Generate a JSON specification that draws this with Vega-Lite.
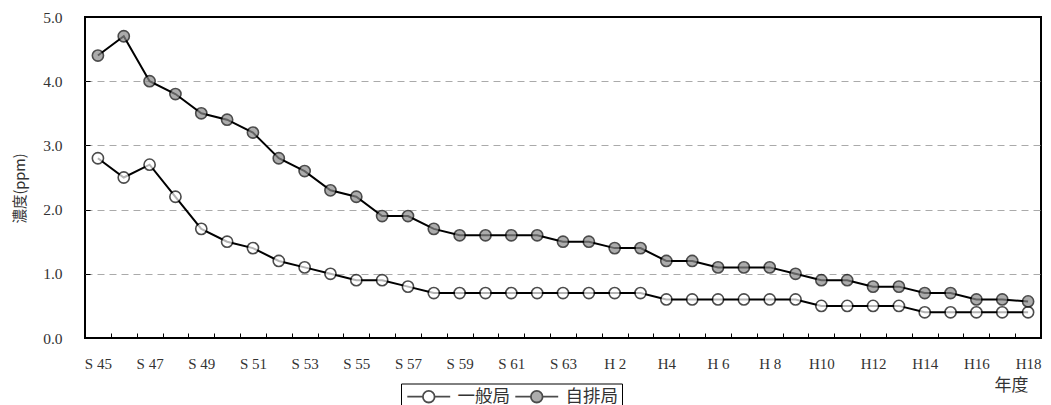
{
  "$schema": "https://vega.github.io/schema/vega-lite/v6.json",
  "width": 956,
  "height": 321,
  "autosize": {"type": "none"},
  "padding": {"left": 85, "top": 17, "right": 10, "bottom": 67},
  "config": {
    "view": {"stroke": "black", "strokeWidth": 2},
    "font": "Liberation Serif"
  },
  "data": {
    "values": [
      {"year": "S 45", "series": "一般局", "value": 2.8}, {"year": "S 45", "series": "自排局", "value": 4.4},
      {"year": "S 46", "series": "一般局", "value": 2.5}, {"year": "S 46", "series": "自排局", "value": 4.7},
      {"year": "S 47", "series": "一般局", "value": 2.7}, {"year": "S 47", "series": "自排局", "value": 4.0},
      {"year": "S 48", "series": "一般局", "value": 2.2}, {"year": "S 48", "series": "自排局", "value": 3.8},
      {"year": "S 49", "series": "一般局", "value": 1.7}, {"year": "S 49", "series": "自排局", "value": 3.5},
      {"year": "S 50", "series": "一般局", "value": 1.5}, {"year": "S 50", "series": "自排局", "value": 3.4},
      {"year": "S 51", "series": "一般局", "value": 1.4}, {"year": "S 51", "series": "自排局", "value": 3.2},
      {"year": "S 52", "series": "一般局", "value": 1.2}, {"year": "S 52", "series": "自排局", "value": 2.8},
      {"year": "S 53", "series": "一般局", "value": 1.1}, {"year": "S 53", "series": "自排局", "value": 2.6},
      {"year": "S 54", "series": "一般局", "value": 1.0}, {"year": "S 54", "series": "自排局", "value": 2.3},
      {"year": "S 55", "series": "一般局", "value": 0.9}, {"year": "S 55", "series": "自排局", "value": 2.2},
      {"year": "S 56", "series": "一般局", "value": 0.9}, {"year": "S 56", "series": "自排局", "value": 1.9},
      {"year": "S 57", "series": "一般局", "value": 0.8}, {"year": "S 57", "series": "自排局", "value": 1.9},
      {"year": "S 58", "series": "一般局", "value": 0.7}, {"year": "S 58", "series": "自排局", "value": 1.7},
      {"year": "S 59", "series": "一般局", "value": 0.7}, {"year": "S 59", "series": "自排局", "value": 1.6},
      {"year": "S 60", "series": "一般局", "value": 0.7}, {"year": "S 60", "series": "自排局", "value": 1.6},
      {"year": "S 61", "series": "一般局", "value": 0.7}, {"year": "S 61", "series": "自排局", "value": 1.6},
      {"year": "S 62", "series": "一般局", "value": 0.7}, {"year": "S 62", "series": "自排局", "value": 1.6},
      {"year": "S 63", "series": "一般局", "value": 0.7}, {"year": "S 63", "series": "自排局", "value": 1.5},
      {"year": "H 1", "series": "一般局", "value": 0.7}, {"year": "H 1", "series": "自排局", "value": 1.5},
      {"year": "H 2", "series": "一般局", "value": 0.7}, {"year": "H 2", "series": "自排局", "value": 1.4},
      {"year": "H 3", "series": "一般局", "value": 0.7}, {"year": "H 3", "series": "自排局", "value": 1.4},
      {"year": "H4", "series": "一般局", "value": 0.6}, {"year": "H4", "series": "自排局", "value": 1.2},
      {"year": "H5", "series": "一般局", "value": 0.6}, {"year": "H5", "series": "自排局", "value": 1.2},
      {"year": "H 6", "series": "一般局", "value": 0.6}, {"year": "H 6", "series": "自排局", "value": 1.1},
      {"year": "H 7", "series": "一般局", "value": 0.6}, {"year": "H 7", "series": "自排局", "value": 1.1},
      {"year": "H 8", "series": "一般局", "value": 0.6}, {"year": "H 8", "series": "自排局", "value": 1.1},
      {"year": "H 9", "series": "一般局", "value": 0.6}, {"year": "H 9", "series": "自排局", "value": 1.0},
      {"year": "H10", "series": "一般局", "value": 0.5}, {"year": "H10", "series": "自排局", "value": 0.9},
      {"year": "H11", "series": "一般局", "value": 0.5}, {"year": "H11", "series": "自排局", "value": 0.9},
      {"year": "H12", "series": "一般局", "value": 0.5}, {"year": "H12", "series": "自排局", "value": 0.8},
      {"year": "H13", "series": "一般局", "value": 0.5}, {"year": "H13", "series": "自排局", "value": 0.8},
      {"year": "H14", "series": "一般局", "value": 0.4}, {"year": "H14", "series": "自排局", "value": 0.7},
      {"year": "H15", "series": "一般局", "value": 0.4}, {"year": "H15", "series": "自排局", "value": 0.7},
      {"year": "H16", "series": "一般局", "value": 0.4}, {"year": "H16", "series": "自排局", "value": 0.6},
      {"year": "H17", "series": "一般局", "value": 0.4}, {"year": "H17", "series": "自排局", "value": 0.6},
      {"year": "H18", "series": "一般局", "value": 0.4}, {"year": "H18", "series": "自排局", "value": 0.57}
    ]
  },
  "encoding": {
    "x": {
      "field": "year",
      "type": "ordinal",
      "sort": null,
      "scale": {"type": "band", "paddingInner": 0, "paddingOuter": 0},
      "axis": {
        "title": "年度",
        "titleFont": "Noto Sans CJK JP",
        "titleFontSize": 17,
        "titleFontWeight": "normal",
        "titleColor": "#333",
        "titleAnchor": "end",
        "titleAlign": "right",
        "titleBaseline": "middle",
        "titleX": 943,
        "titleY": 47,
        "labelAngle": 0,
        "labelFontSize": 15,
        "labelColor": "#333",
        "labelPadding": 23,
        "labelOverlap": false,
        "labelBound": false,
        "labelFlush": false,
        "labelExpr": "indexof(['S 45','S 47','S 49','S 51','S 53','S 55','S 57','S 59','S 61','S 63','H 2','H4','H 6','H 8','H10','H12','H14','H16','H18'], datum.value) >= 0 ? datum.value : ''",
        "tickBand": "extent",
        "tickSize": -5,
        "tickColor": "black",
        "domain": false,
        "grid": false
      }
    },
    "y": {
      "field": "value",
      "type": "quantitative",
      "scale": {"domain": [0, 5], "nice": false},
      "axis": {
        "title": "濃度(ppm)",
        "titleFont": "Noto Sans CJK JP",
        "titleFontSize": 14.5,
        "titleFontWeight": "normal",
        "titleColor": "#333",
        "titleAngle": -90,
        "titleAlign": "center",
        "titleBaseline": "middle",
        "titleX": -65,
        "titleY": 171,
        "values": [0, 1, 2, 3, 4, 5],
        "format": ".1f",
        "labelFontSize": 15.5,
        "labelColor": "#333",
        "labelPadding": 28,
        "tickSize": -5,
        "tickColor": "black",
        "domain": false,
        "grid": true,
        "gridDash": [7, 5],
        "gridColor": {"condition": {"test": "datum.value == 0 || datum.value == 5", "value": "transparent"}, "value": "#aaaaaa"}
      }
    }
  },
  "layer": [
    {
      "mark": {"type": "line", "color": "black", "strokeWidth": 2},
      "encoding": {"detail": {"field": "series"}}
    },
    {
      "mark": {"type": "point", "shape": "circle", "filled": true, "size": 125, "stroke": "black", "strokeWidth": 1.6},
      "encoding": {
        "fill": {
          "field": "series",
          "type": "nominal",
          "scale": {"domain": ["一般局", "自排局"], "range": ["white", "#8a8a8a"]},
          "legend": {
            "title": null,
            "orient": "none",
            "legendX": 316,
            "legendY": 366.5,
            "direction": "horizontal",
            "symbolType": "M-3.3,0H-0.9M0.9,0H3.3M-0.9,0A0.9,0.9,0,1,1,0.9,0A0.9,0.9,0,1,1,-0.9,0Z",
            "symbolSize": 169,
            "symbolOffset": 15,
            "symbolStrokeColor": "black",
            "symbolStrokeWidth": 1.8,
            "labelFont": "Noto Sans CJK JP",
            "labelFontSize": 17.5,
            "labelColor": "#333",
            "labelOffset": 20,
            "columnPadding": 1,
            "padding": 4,
            "strokeColor": "black",
            "fillColor": "white"
          }
        }
      }
    }
  ]
}
